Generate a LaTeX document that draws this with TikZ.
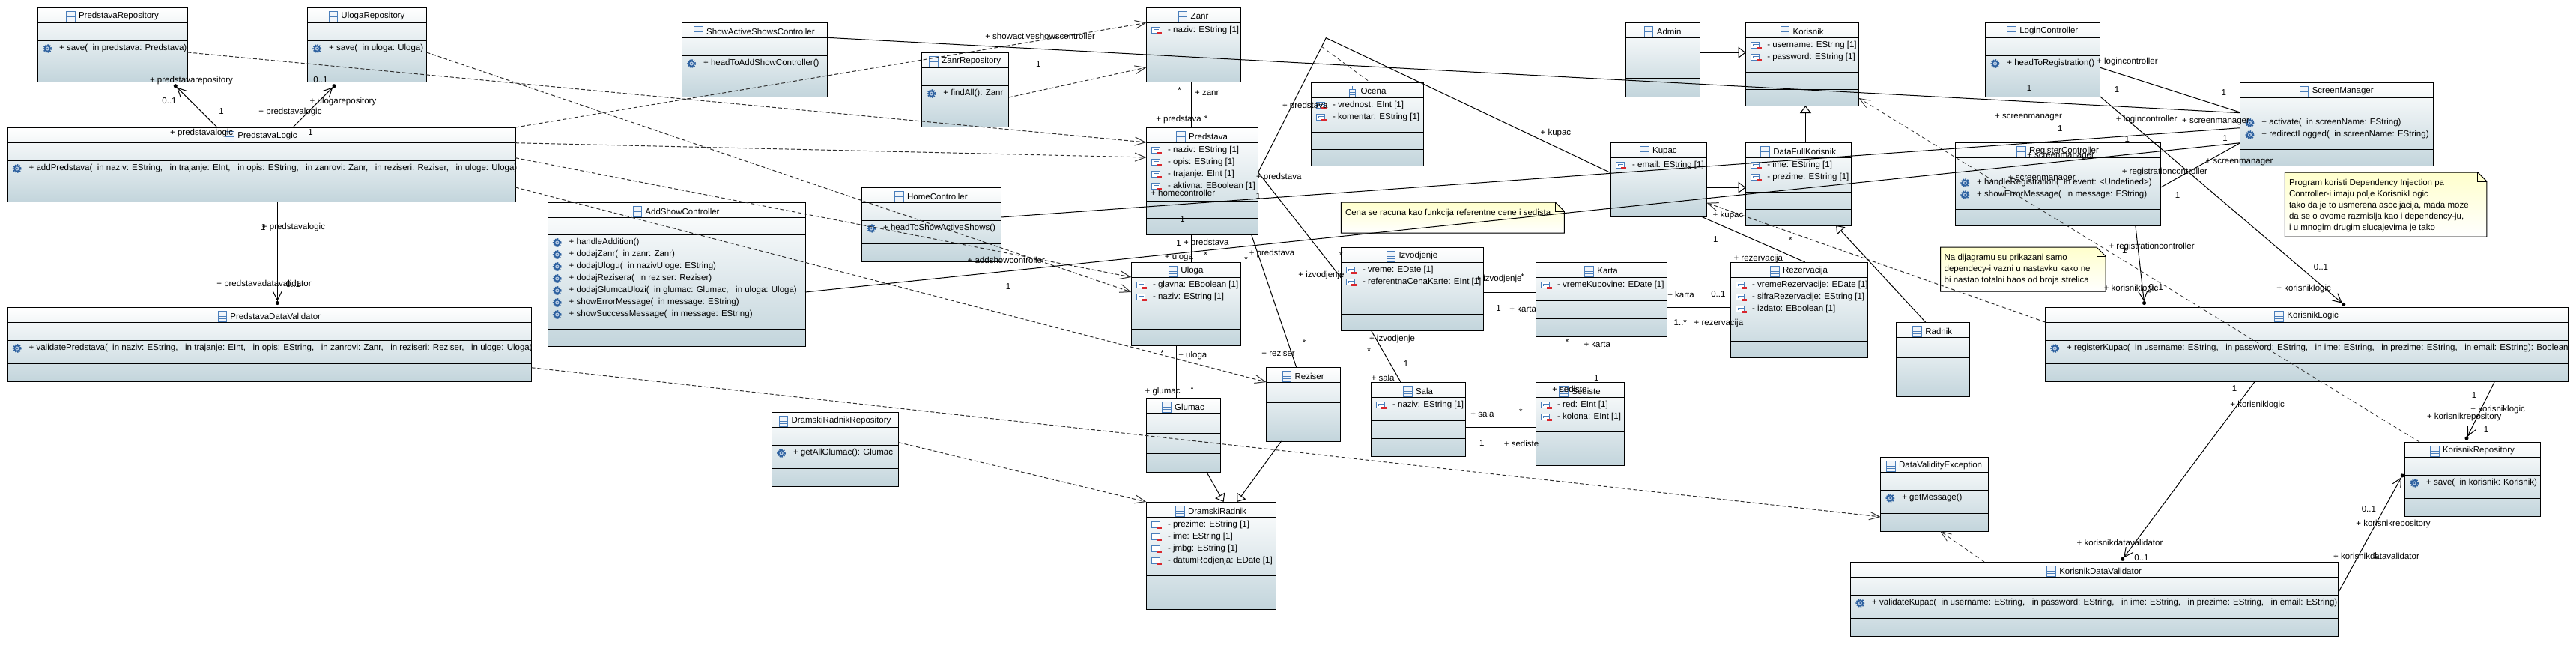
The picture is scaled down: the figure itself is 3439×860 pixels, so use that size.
\documentclass[tikz,border=0pt]{standalone}
\usepackage{fontspec}
\setmainfont{Liberation Sans}
\usetikzlibrary{arrows.meta}
\definecolor{boxb}{HTML}{C3D5DC}
\definecolor{iconb}{HTML}{4A7EBB}
\definecolor{gearb}{HTML}{2B5F9E}
\definecolor{minusr}{HTML}{D9272E}
\definecolor{notey}{HTML}{FFFFCC}
\definecolor{dashc}{HTML}{303030}
\newcounter{labc}
\newcounter{linkc}
\tikzset{
  umlclass/.style={draw=black,line width=1pt,inner sep=0pt,outer sep=0pt,anchor=north west,top color=white,bottom color=boxb},
  title/.style={inner sep=0pt,outer sep=0pt,font=\uml},
  row/.style={inner sep=0pt,outer sep=0pt,anchor=west,font=\uml},
  lbl/.style={inner sep=0pt,outer sep=0pt,font=\uml},
  notetxt/.style={inner sep=0pt,outer sep=0pt,anchor=west,font=\uml},
  assoc/.style={draw=black,line width=1pt},
  nav/.style={assoc,-{Straight Barb[length=12pt,width=12pt]Circle[length=5pt,width=5pt]}},
  dep/.style={draw=dashc,line width=1pt,dash pattern=on 5pt off 3pt,-{Straight Barb[length=14pt,width=11pt]}},
  thindep/.style={draw=dashc,line width=.8pt,dash pattern=on 5pt off 4pt},
  gen/.style={assoc,-{Triangle[open,length=10pt,width=15pt,fill=white]}},
}
\newcommand{\uml}{\fontsize{11.5}{13}\selectfont}
% name x1 x2 y0 y1 y2 y3 y4 title
\newcommand{\umlbox}[9]{%
  \expandafter\gdef\csname bx#1\endcsname{#2}%
  \expandafter\gdef\csname by#1\endcsname{#4}%
  \node[umlclass,minimum width={#3-#2},minimum height={#8-#4}] (#1) at (#2,#4) {};
  \foreach \yy in {#5,#6,#7}{\draw[line width=1pt] ([shift={(0,{\yy-#4})}]#1.north west) -- ([shift={(0,{\yy-#4})}]#1.north east);}
  \node[title] (#1-t) at ([shift={(8,12)}]#1.north) {#9};
  \boxicon{[shift={(-16.5,-7)}]#1-t.west}
}
\newcommand{\classicon}[1]{%
  \begin{scope}[shift={(#1)}]
    \draw[draw=iconb,fill=iconb!8,line width=.9pt] (0,0) rectangle (11.5,14);
    \draw[draw=iconb,line width=.9pt] (0,7.5) -- (11.5,7.5) (0,10.5) -- (11.5,10.5);
  \end{scope}}
\newcommand{\stickicon}[1]{%
  \begin{scope}[shift={(#1)}]
    \draw[draw=iconb,line width=.9pt] (5.5,0) -- (5.5,4);
    \draw[draw=iconb,fill=iconb!8,line width=.9pt] (1.5,4) rectangle (9.5,14);
    \draw[draw=iconb,line width=.9pt] (1.5,8) -- (9.5,8) (1.5,11) -- (9.5,11);
  \end{scope}}
\let\boxicon\classicon
\newcommand{\attricon}[1]{%
  \begin{scope}[shift={(#1)}]
    \draw[draw=iconb,fill=white,line width=.9pt] (0,-5) rectangle (11,3);
    \draw[draw=iconb,line width=.9pt] (3,-2) -- (10,-2);
    \draw[draw=iconb,line width=.9pt] (3,-2) -- (3,1);
    \fill[minusr] (7,1.5) rectangle (14,4.5);
  \end{scope}}
\newcommand{\gearicon}[1]{%
  \begin{scope}[shift={(#1)}]
    \draw[draw=gearb,line width=1.6pt,dash pattern=on 1.6pt off 1.4pt] (0,0) circle (5.2);
    \fill[gearb] (0,0) circle (4.6);
    \fill[iconb!40] (0,0) circle (2.6);
    \fill[gearb] (0,0) circle (1.2);
  \end{scope}}
\newcommand{\attrs}[2]{%
  \foreach \t [count=\i from 0] in {#2}{%
    \attricon{[shift={(7,{31+16*\i})}]#1.north west}
    \node[row] (#1-a\i) at ([shift={(28.7,{31+16*\i})}]#1.north west) {\t};
  }}
% name, offset of the operations row from the top, list
\newcommand{\ops}[3]{%
  \foreach \t [count=\i from 0] in {#3}{%
    \gearicon{[shift={(12.8,{#2+11+16*\i})}]#1.north west}
    \node[row] (#1-o\i) at ([shift={(28.7,{#2+11+16*\i})}]#1.north west) {\t};
  }}
\newcommand{\lab}[3]{\stepcounter{labc}\node[lbl] (lab\thelabc) at (#1,#2) {#3};}
% style, node A, abs point on A, node B, abs point on B
\newcommand{\conn}[7]{\draw[#1] ([shift={({#3-\csname bx#2\endcsname},{#4-\csname by#2\endcsname})}]#2.north west) -- ([shift={({#6-\csname bx#5\endcsname},{#7-\csname by#5\endcsname})}]#5.north west);}
\newcommand{\umlnote}[5]{%
  \fill[top color=notey,bottom color=white,draw=black,line width=1pt]
    (#2,#4) -- (#3-12,#4) -- (#3,#4+12) -- (#3,#5) -- (#2,#5) -- cycle;
  \draw[line width=1pt] (#3-12,#4) -- (#3-12,#4+12) -- (#3,#4+12);
  \coordinate (#1) at (#2,#4);
}
\begin{document}
\begin{tikzpicture}[x=1pt,y=-1pt]
\useasboundingbox (0,0) rectangle (3439,860);
\fill[white] (0,0) rectangle (3439,860);
% ---------- classes
\umlbox{PredstavaRepository}{50.5}{250.3}{10}{30}{54}{85}{109}{PredstavaRepository}
\ops{PredstavaRepository}{44}{{+ save(~~in predstava: Predstava)}}
\umlbox{UlogaRepository}{410.5}{569.5}{10}{30}{54}{85}{109}{UlogaRepository}
\ops{UlogaRepository}{44}{{+ save(~~in uloga: Uloga)}}
\umlbox{PredstavaLogic}{10}{688}{170}{190}{214}{245}{269}{PredstavaLogic}
\ops{PredstavaLogic}{44}{{+ addPredstava(~~in naziv: EString,~~~in trajanje: EInt,~~~in opis: EString,~~~in zanrovi: Zanr,~~~in reziseri: Reziser,~~~in uloge: Uloga)}}
\umlbox{PredstavaDataValidator}{10}{709.5}{410}{430}{454}{485}{509}{PredstavaDataValidator}
\ops{PredstavaDataValidator}{44}{{+ validatePredstava(~~in naziv: EString,~~~in trajanje: EInt,~~~in opis: EString,~~~in zanrovi: Zanr,~~~in reziseri: Reziser,~~~in uloge: Uloga)}}
\umlbox{AddShowController}{731}{1075}{270}{290}{313}{439}{462}{AddShowController}
\ops{AddShowController}{43}{{+ handleAddition()},{+ dodajZanr(~~in zanr: Zanr)},{+ dodajUlogu(~~in nazivUloge: EString)},{+ dodajRezisera(~~in reziser: Reziser)},{+ dodajGlumcaUlozi(~~in glumac: Glumac,~~~in uloga: Uloga)},{+ showErrorMessage(~~in message: EString)},{+ showSuccessMessage(~~in message: EString)}}
\umlbox{ShowActiveShowsController}{910.4}{1104.5}{30}{50}{74}{105}{129}{ShowActiveShowsController}
\ops{ShowActiveShowsController}{44}{{+ headToAddShowController()}}
\umlbox{ZanrRepository}{1230.7}{1346.7}{70}{90}{114}{145}{169}{ZanrRepository}
\ops{ZanrRepository}{44}{{+ findAll(): Zanr}}
\umlbox{Zanr}{1530.4}{1656.7}{10}{30}{61}{85}{109}{Zanr}
\attrs{Zanr}{{- naziv: EString [1]}}
\umlbox{Predstava}{1530.4}{1679.7}{170}{190}{268}{291}{313}{Predstava}
\attrs{Predstava}{{- naziv: EString [1]},{- opis: EString [1]},{- trajanje: EInt [1]},{- aktivna: EBoolean [1]}}
\umlbox{HomeController}{1150.4}{1336.4}{250}{270}{294}{325}{349}{HomeController}
\ops{HomeController}{44}{{+ headToShowActiveShows()}}
\umlbox{Uloga}{1510.3}{1656.7}{350}{370}{416}{439}{461}{Uloga}
\attrs{Uloga}{{- glavna: EBoolean [1]},{- naziv: EString [1]}}
\let\boxicon\stickicon
\umlbox{Ocena}{1750.3}{1900.6}{110}{130}{176}{199}{221}{Ocena}
\let\boxicon\classicon
\attrs{Ocena}{{- vrednost: EInt [1]},{- komentar: EString [1]}}
\umlbox{Admin}{2170.4}{2269.8}{30}{50}{77}{104}{129}{Admin}
\umlbox{Korisnik}{2330.6}{2481.6}{30}{50}{96}{119}{141}{Korisnik}
\attrs{Korisnik}{{- username: EString [1]},{- password: EString [1]}}
\umlbox{Kupac}{2150.4}{2278.4}{190}{210}{241}{265}{289}{Kupac}
\attrs{Kupac}{{- email: EString [1]}}
\umlbox{DataFullKorisnik}{2330.6}{2471.8}{190}{210}{256}{279}{301}{DataFullKorisnik}
\attrs{DataFullKorisnik}{{- ime: EString [1]},{- prezime: EString [1]}}
\umlbox{Izvodjenje}{1790.4}{1980.4}{330}{350}{396}{419}{441}{Izvodjenje}
\attrs{Izvodjenje}{{- vreme: EDate [1]},{- referentnaCenaKarte: EInt [1]}}
\umlbox{Karta}{2050.5}{2225.6}{350}{370}{401}{425}{449}{Karta}
\attrs{Karta}{{- vremeKupovine: EDate [1]}}
\umlbox{Rezervacija}{2310.5}{2493.6}{350}{370}{432}{455}{477}{Rezervacija}
\attrs{Rezervacija}{{- vremeRezervacije: EDate [1]},{- sifraRezervacije: EString [1]},{- izdato: EBoolean [1]}}
\umlbox{Radnik}{2531}{2629.4}{430}{450}{477}{504}{529}{Radnik}
\umlbox{LoginController}{2650.7}{2803.8}{30}{50}{74}{105}{129}{LoginController}
\ops{LoginController}{44}{{+ headToRegistration()}}
\umlbox{ScreenManager}{2990.7}{3248.7}{110}{130}{153}{199}{221}{ScreenManager}
\ops{ScreenManager}{43}{{+ activate(~~in screenName: EString)},{+ redirectLogged(~~in screenName: EString)}}
\umlbox{RegisterController}{2610.5}{2884.6}{190}{210}{233}{279}{301}{RegisterController}
\ops{RegisterController}{43}{{+ handleRegistration(~~in event: <Undefined>)},{+ showErrorMessage(~~in message: EString)}}
\umlbox{KorisnikLogic}{2730.4}{3428.8}{410}{430}{454}{485}{509}{KorisnikLogic}
\ops{KorisnikLogic}{44}{{+ registerKupac(~~in username: EString,~~~in password: EString,~~~in ime: EString,~~~in prezime: EString,~~~in email: EString): Boolean}}
\umlbox{KorisnikRepository}{3210.5}{3391.3}{590}{610}{634}{665}{689}{KorisnikRepository}
\ops{KorisnikRepository}{44}{{+ save(~~in korisnik: Korisnik)}}
\umlbox{KorisnikDataValidator}{2470.5}{3121.7}{750}{770}{794}{825}{849}{KorisnikDataValidator}
\ops{KorisnikDataValidator}{44}{{+ validateKupac(~~in username: EString,~~~in password: EString,~~~in ime: EString,~~~in prezime: EString,~~~in email: EString)}}
\umlbox{DataValidityException}{2510.6}{2654.6}{610}{630}{654}{685}{709}{DataValidityException}
\ops{DataValidityException}{44}{{+ getMessage()}}
\umlbox{Glumac}{1530.3}{1629.6}{531}{551}{578}{605}{630}{Glumac}
\umlbox{Reziser}{1690.5}{1789.8}{490}{510}{537}{564}{589}{Reziser}
\umlbox{DramskiRadnik}{1530.3}{1703.7}{670}{690}{768}{791}{813}{DramskiRadnik}
\attrs{DramskiRadnik}{{- prezime: EString [1]},{- ime: EString [1]},{- jmbg: EString [1]},{- datumRodjenja: EDate [1]}}
\umlbox{DramskiRadnikRepository}{1030.3}{1199.7}{550}{570}{594}{625}{649}{DramskiRadnikRepository}
\ops{DramskiRadnikRepository}{44}{{+ getAllGlumac(): Glumac}}
\umlbox{Sala}{1830.4}{1956.7}{510}{530}{561}{585}{609}{Sala}
\attrs{Sala}{{- naziv: EString [1]}}
\umlbox{Sediste}{2050.5}{2168.6}{510}{530}{576}{599}{621}{Sediste}
\attrs{Sediste}{{- red: EInt [1]},{- kolona: EInt [1]}}
% ---------- notes
\umlnote{noteCena}{1790.4}{2088.4}{270}{311}
\node[notetxt] (noteCena-1) at (1796,285) {Cena se racuna kao funkcija referentne cene i sedista};
\umlnote{noteDij}{2590.7}{2811}{330}{389}
\node[notetxt] (noteDij-1) at (2595.6,345) {Na dijagramu su prikazani samo};
\node[notetxt] (noteDij-2) at (2595.6,360) {dependecy-i vazni u nastavku kako ne};
\node[notetxt] (noteDij-3) at (2595.6,375) {bi nastao totalni haos od broja strelica};
\umlnote{noteProg}{3050.3}{3319.8}{230}{316}
\node[notetxt] (noteProg-1) at (3056,245) {Program koristi Dependency Injection pa};
\node[notetxt] (noteProg-2) at (3056,260) {Controller-i imaju polje KorisnikLogic};
\node[notetxt] (noteProg-3) at (3056,275) {tako da je to usmerena asocijacija, mada moze};
\node[notetxt] (noteProg-4) at (3056,290) {da se o ovome razmislja kao i dependency-ju,};
\node[notetxt] (noteProg-5) at (3056,305) {i u mnogim drugim slucajevima je tako};
% ---------- dependencies
\conn{dep}{PredstavaRepository}{250.3}{70}{Predstava}{1530.4}{190}
\conn{dep}{UlogaRepository}{569.5}{70}{Uloga}{1510.3}{390}
\conn{dep}{PredstavaLogic}{688}{170}{Zanr}{1530.4}{30.5}
\conn{dep}{PredstavaLogic}{688}{190.7}{Predstava}{1530.4}{210}
\conn{dep}{PredstavaLogic}{688}{210.7}{Uloga}{1510.3}{370}
\conn{dep}{PredstavaLogic}{688}{250}{Reziser}{1690.5}{510}
\conn{dep}{ZanrRepository}{1346.7}{130}{Zanr}{1530.4}{90}
\conn{dep}{PredstavaDataValidator}{709.5}{490.7}{DataValidityException}{2510.6}{690}
\conn{dep}{DramskiRadnikRepository}{1199.7}{590.7}{DramskiRadnik}{1530.3}{670}
\conn{dep,thindep}{KorisnikRepository}{3230}{590}{Korisnik}{2481.6}{131}
\conn{dep}{KorisnikLogic}{2730.4}{430}{Kupac}{2278.4}{270.7}
\conn{dep,thindep}{KorisnikDataValidator}{2649}{750}{DataValidityException}{2590}{709}
% ---------- associations
\conn{nav}{PredstavaLogic}{290}{170}{PredstavaRepository}{232.5}{113}
\conn{nav}{PredstavaLogic}{391}{170}{UlogaRepository}{447.8}{113}
\conn{nav}{PredstavaLogic}{370.3}{269}{PredstavaDataValidator}{370.3}{407}
\conn{assoc}{ShowActiveShowsController}{1104.5}{50.3}{ScreenManager}{2990.7}{150.7}
\conn{assoc}{HomeController}{1336.4}{290}{ScreenManager}{2990.7}{170.7}
\conn{assoc}{AddShowController}{1075}{390}{ScreenManager}{2990.7}{190.7}
\conn{assoc}{LoginController}{2803.8}{90.3}{ScreenManager}{2990.7}{150}
\conn{assoc}{RegisterController}{2884.6}{250}{ScreenManager}{2990.7}{190.7}
\conn{nav}{LoginController}{2803.8}{129}{KorisnikLogic}{3130.6}{408}
\conn{nav}{RegisterController}{2850.8}{301}{KorisnikLogic}{2862.8}{407}
\conn{nav}{KorisnikLogic}{3010.4}{509}{KorisnikDataValidator}{2832.2}{748.3}
\conn{nav}{KorisnikLogic}{3330.4}{509}{KorisnikRepository}{3291.8}{587.3}
\conn{nav}{KorisnikDataValidator}{3121.7}{790.7}{KorisnikRepository}{3208.3}{632.7}
\conn{assoc}{Predstava}{1590.7}{170}{Zanr}{1590.7}{109}
\conn{assoc}{Predstava}{1590.7}{313}{Uloga}{1590.7}{350}
\conn{assoc}{Predstava}{1670.5}{313}{Reziser}{1730.6}{490}
\conn{assoc}{Uloga}{1570.5}{461}{Glumac}{1570.5}{531}
\conn{assoc}{Predstava}{1679.7}{230}{Izvodjenje}{1790.4}{371}
\conn{assoc}{Izvodjenje}{1980.4}{390.3}{Karta}{2050.5}{390.3}
\conn{assoc}{Izvodjenje}{1830.4}{441}{Sala}{1870}{510}
\conn{assoc}{Karta}{2225.6}{410.3}{Rezervacija}{2310.5}{410.3}
\conn{assoc}{Karta}{2110.6}{449}{Sediste}{2110.6}{510}
\conn{assoc}{Sala}{1956.7}{570.3}{Sediste}{2050.5}{570.3}
\conn{assoc}{Kupac}{2270.9}{289}{Rezervacija}{2409.8}{350}
\coordinate (bendOcena) at (1770.3,50.7);
\coordinate (joinOcena) at (1764,62);
\draw[assoc] ([shift={(149.3,60)}]Predstava.north west) -- (bendOcena) -- ([shift={(0,40.7)}]Kupac.north west);
\draw[thindep] (joinOcena) -- ([shift={(79,0)}]Ocena.north west);
% ---------- generalizations
\conn{gen}{Admin}{2269.8}{70.3}{Korisnik}{2330.6}{70.3}
\conn{gen}{Kupac}{2278.4}{250.3}{DataFullKorisnik}{2330.6}{250.3}
\conn{gen}{DataFullKorisnik}{2410.4}{190}{Korisnik}{2410.4}{141}
\conn{gen}{Radnik}{2570.6}{430}{DataFullKorisnik}{2451.1}{301}
\conn{gen}{Glumac}{1610.7}{630}{DramskiRadnik}{1633.6}{670}
\conn{gen}{Reziser}{1710.6}{589}{DramskiRadnik}{1651.4}{670}
% ---------- labels
\lab{255.5}{107.3}{+ predstavarepository}
\lab{226}{135}{0..1}
\lab{295.6}{148.7}{1}
\lab{428}{106.7}{0..1}
\lab{458}{135.3}{+ ulogarepository}
\lab{387.5}{149.3}{+ predstavalogic}
\lab{269.2}{177.3}{+ predstavalogic}
\lab{414.5}{176.7}{1}
\lab{351.3}{304}{1}
\lab{392}{304}{+ predstavalogic}
\lab{352.5}{380}{+ predstavadatavalidator}
\lab{391.5}{380}{0..1}
\lab{1388.6}{48.3}{+ showactiveshowscontroller}
\lab{1386.3}{86}{1}
\lab{1574.6}{120.7}{*}
\lab{1611.3}{124.7}{+ zanr}
\lab{1573.5}{159.7}{+ predstava}
\lab{1610.2}{159}{*}
\lab{1742.2}{141.3}{+ predstava}
\lab{1707.2}{236.3}{+ predstava}
\lab{1579.2}{257.3}{+ homecontroller}
\lab{1679.7}{262}{1}
\lab{1578.6}{293}{1}
\lab{1573.5}{324.7}{1}
\lab{1610.2}{325}{+ predstava}
\lab{1574}{343.3}{+ uloga}
\lab{1609.6}{340.3}{*}
\lab{1698}{338.3}{+ predstava}
\lab{1663.6}{346.3}{*}
\lab{1764}{368}{+ izvodjenje}
\lab{1343.3}{347}{+ addshowcontroller}
\lab{1346}{382.7}{1}
\lab{2076.9}{177.3}{+ kupac}
\lab{1790.4}{340.3}{*}
\lab{1970.7}{376}{1}
\lab{2001}{372.3}{+ izvodjenje}
\lab{2032.7}{370}{*}
\lab{2000.5}{412}{1}
\lab{2033.2}{412.3}{+ karta}
\lab{2244}{393.3}{+ karta}
\lab{2293.9}{392.7}{0..1}
\lab{2243.3}{430.7}{1..*}
\lab{2294.4}{431.3}{+ rezervacija}
\lab{2347.3}{346}{+ rezervacija}
\lab{2290.4}{319.7}{1}
\lab{2307}{287.3}{+ kupac}
\lab{2390.3}{320.3}{*}
\lab{2709.1}{117.3}{1}
\lab{2839.9}{82.3}{+ logincontroller}
\lab{2826.1}{119.3}{1}
\lab{2968.9}{123.7}{1}
\lab{2708}{156.7}{+ screenmanager}
\lab{2750.4}{171.7}{1}
\lab{2865.7}{159.3}{+ logincontroller}
\lab{2958}{162.3}{+ screenmanager}
\lab{2839.9}{185.7}{1}
\lab{2970.6}{184.3}{1}
\lab{2751}{208.3}{+ screenmanager}
\lab{2989.5}{216.3}{+ screenmanager}
\lab{2889.8}{230}{+ registrationcontroller}
\lab{2725.8}{238.7}{+ screenmanager}
\lab{2907}{260.7}{1}
\lab{2872.6}{330}{+ registrationcontroller}
\lab{2836.4}{335}{1}
\lab{2845}{386}{+ korisniklogic}
\lab{2878.3}{383.3}{0..1}
\lab{3098.5}{356.7}{0..1}
\lab{3075.6}{385.3}{+ korisniklogic}
\lab{2983.1}{518.7}{1}
\lab{3013.6}{540.3}{+ korisniklogic}
\lab{3303}{527.7}{1}
\lab{3334.6}{546.3}{+ korisniklogic}
\lab{3289.7}{557}{+ korisnikrepository}
\lab{3319.1}{573.7}{1}
\lab{3162.3}{679.7}{0..1}
\lab{3195}{699.3}{+ korisnikrepository}
\lab{3172.5}{742}{+ korisnikdatavalidator}
\lab{3171.4}{742}{1}
\lab{2830}{724}{+ korisnikdatavalidator}
\lab{2859}{744.3}{0..1}
\lab{1551.6}{471.7}{*}
\lab{1592.3}{474.3}{+ uloga}
\lab{1552.1}{522.3}{+ glumac}
\lab{1591.7}{519.3}{*}
\lab{1741}{457.3}{*}
\lab{1706.6}{471.7}{+ reziser}
\lab{1858.6}{452.3}{+ izvodjenje}
\lab{1827.7}{468.3}{*}
\lab{1877}{485.7}{1}
\lab{1846.1}{504.3}{+ sala}
\lab{2131.2}{504.3}{1}
\lab{2092.2}{456.7}{*}
\lab{2132.3}{459.3}{+ karta}
\lab{2095.4}{519}{+ sediste}
\lab{1978.9}{552.3}{+ sala}
\lab{2030.4}{549.3}{*}
\lab{1978.4}{591.7}{1}
\lab{2031}{592.3}{+ sediste}
\end{tikzpicture}
\end{document}
